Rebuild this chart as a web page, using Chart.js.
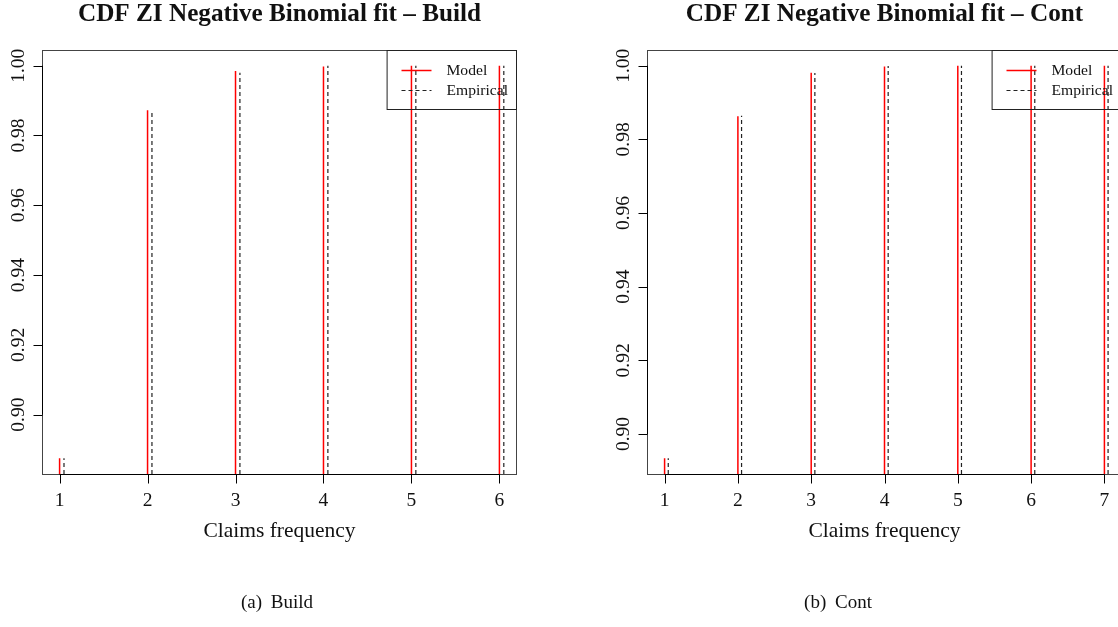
<!DOCTYPE html>
<html lang="en">
<head>
  <meta charset="UTF-8">
  <title>CDF ZI Negative Binomial fit</title>
  <script src="https://cdn.jsdelivr.net/npm/chart.js"></script>
  <style>
    body {
      margin: 0;
      background: #ffffff;
      width: 1118px;
      height: 627px;
      overflow: hidden;
      position: relative;
      font-family: 'Liberation Serif', 'Times New Roman', serif;
    }
    .panel {
      position: absolute;
      top: 0;
    }
    .caption {
      position: absolute;
      top: 591px;
      font-size: 19px;
      color: #111;
      word-spacing: 4px;
      transform: translateX(-50%);
      white-space: nowrap;
    }
  </style>
</head>
<body>
  <canvas id="build" class="panel" width="560" height="627" style="left:0"></canvas>
  <canvas id="cont" class="panel" width="560" height="627" style="left:605px"></canvas>
  <div class="caption" style="left:277px">(a) Build</div>
  <div class="caption" style="left:838px">(b) Cont</div>
  <script>
    // Build portfolio
    const claimsBuild = [1, 2, 3, 4, 5, 6];
    const modelBuild = [0.8875, 0.9872, 0.9985, 0.9998, 1.0000, 1.0000];
    const empiricalBuild = [0.8875, 0.9873, 0.9980, 1.0000, 1.0000, 1.0000];

    // Cont portfolio
    const claimsCont = [1, 2, 3, 4, 5, 6, 7];
    const modelCont = [0.8934, 0.9863, 0.9981, 0.9998, 1.0000, 1.0000, 1.0000];
    const empiricalCont = [0.8934, 0.9864, 0.9980, 0.9999, 1.0000, 1.0000, 1.0000];

    const yTicks = [0.90, 0.92, 0.94, 0.96, 0.98, 1.00];
    const EMP_SHIFT = 0.05; // empirical spikes sit just right of the model ones

    const FONT = "'Liberation Serif', 'Times New Roman', serif";

    // R-style range: data range padded by 4% on each side
    function padRange(lo, hi) {
      const d = (hi - lo) * 0.04;
      return [lo - d, hi + d];
    }

    // type="h" spikes: one segment per value, broken by null gaps
    function spikes(xs, ys, shift, base) {
      const pts = [];
      xs.forEach((x, i) => {
        pts.push({ x: x + shift, y: base });
        pts.push({ x: x + shift, y: ys[i] });
        pts.push({ x: x + shift, y: null });
      });
      return pts;
    }

    // frame, axes, title and legend drawn the way base R graphics does
    const rGraphics = {
      id: 'rGraphics',
      afterDatasetsDraw(chart, args, opts) {
        const { ctx, chartArea: a, scales: { x, y } } = chart;
        const left = a.left + 0.5, right = a.right - 0.5;
        const top = a.top + 0.5, bottom = a.bottom + 0.5;
        ctx.save();

        // plot frame
        ctx.strokeStyle = '#444';
        ctx.lineWidth = 1;
        ctx.setLineDash([]);
        ctx.strokeRect(left, top, right - left, bottom - top);

        // x axis
        ctx.strokeStyle = '#000';
        ctx.beginPath();
        const xt = opts.xTicks;
        ctx.moveTo(x.getPixelForValue(xt[0]), bottom);
        ctx.lineTo(x.getPixelForValue(xt[xt.length - 1]), bottom);
        xt.forEach(v => {
          const px = Math.round(x.getPixelForValue(v)) + 0.5;
          ctx.moveTo(px, bottom);
          ctx.lineTo(px, bottom + 9);
        });
        // y axis
        ctx.moveTo(left, y.getPixelForValue(yTicks[0]));
        ctx.lineTo(left, y.getPixelForValue(yTicks[yTicks.length - 1]));
        yTicks.forEach(v => {
          const py = Math.round(y.getPixelForValue(v)) + 0.5;
          ctx.moveTo(left, py);
          ctx.lineTo(left - 9, py);
        });
        ctx.stroke();

        // tick labels
        ctx.fillStyle = '#111';
        ctx.font = `19.5px ${FONT}`;
        ctx.textAlign = 'center';
        ctx.textBaseline = 'alphabetic';
        xt.forEach(v => ctx.fillText(String(v), x.getPixelForValue(v), bottom + 31));
        yTicks.forEach(v => {
          ctx.save();
          ctx.translate(left - 18.5, y.getPixelForValue(v));
          ctx.rotate(-Math.PI / 2);
          ctx.fillText(v.toFixed(2), 0, 0);
          ctx.restore();
        });

        // axis title and main title
        const cx = (a.left + a.right) / 2;
        ctx.textBaseline = 'middle';
        ctx.font = `21.5px ${FONT}`;
        ctx.fillText(opts.xTitle, cx, bottom + 57);
        ctx.font = `bold 25.2px ${FONT}`;
        ctx.fillText(opts.title, cx, 14);

        // legend, top-right, transparent background
        const w = 129.4, h = 59;
        ctx.strokeStyle = '#222';
        ctx.strokeRect(right - w, top, w, h);
        ctx.font = `15.6px ${FONT}`;
        ctx.textAlign = 'left';
        chart.data.datasets.forEach((ds, i) => {
          const ly = Math.round(top + 19.6 + i * 19.7) + 0.5;
          ctx.strokeStyle = ds.borderColor;
          ctx.lineWidth = ds.borderWidth;
          ctx.setLineDash(ds.borderDash || []);
          ctx.beginPath();
          ctx.moveTo(right - 115, ly);
          ctx.lineTo(right - 85, ly);
          ctx.stroke();
          ctx.fillStyle = '#111';
          ctx.fillText(ds.label, right - 70, ly);
        });
        ctx.restore();
      }
    };

    function makePanel(id, title, xs, model, empirical) {
      const [xMin, xMax] = padRange(xs[0], xs[xs.length - 1]);
      const [yMin, yMax] = padRange(Math.min(...model, ...empirical), Math.max(...model, ...empirical));
      return new Chart(document.getElementById(id), {
        type: 'line',
        data: {
          datasets: [
            {
              label: 'Model',
              data: spikes(xs, model, 0, yMin),
              borderColor: '#ff0000',
              borderWidth: 1.5,
              pointRadius: 0,
              spanGaps: false
            },
            {
              label: 'Empirical',
              data: spikes(xs, empirical, EMP_SHIFT, yMin),
              borderColor: '#222222',
              borderWidth: 1.2,
              borderDash: [4, 3],
              pointRadius: 0,
              spanGaps: false
            }
          ]
        },
        options: {
          responsive: false,
          animation: false,
          devicePixelRatio: 1,
          layout: { padding: { left: 42, top: 50, right: 43, bottom: 153 } },
          scales: {
            x: { type: 'linear', min: xMin, max: xMax, display: false },
            y: { type: 'linear', min: yMin, max: yMax, display: false }
          },
          plugins: {
            legend: { display: false },
            tooltip: { enabled: false },
            rGraphics: { title: title, xTitle: 'Claims frequency', xTicks: xs }
          }
        },
        plugins: [rGraphics]
      });
    }

    makePanel('build', 'CDF ZI Negative Binomial fit \u2013 Build', claimsBuild, modelBuild, empiricalBuild);
    makePanel('cont', 'CDF ZI Negative Binomial fit \u2013 Cont', claimsCont, modelCont, empiricalCont);
  </script>
</body>
</html>
